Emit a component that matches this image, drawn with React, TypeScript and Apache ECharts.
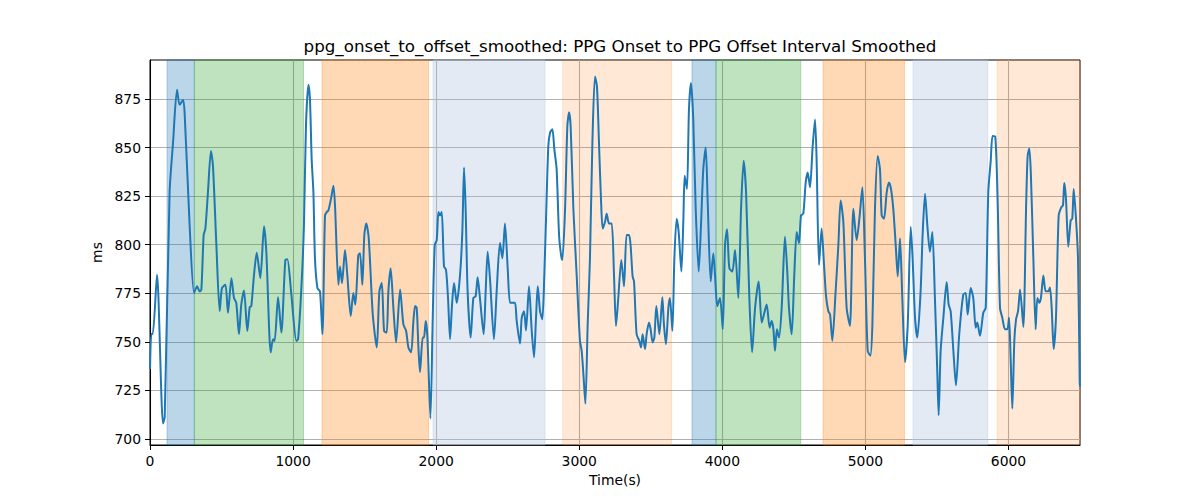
import { useEffect, useRef } from "react";
import * as echarts from "echarts";

const TITLE = "ppg_onset_to_offset_smoothed: PPG Onset to PPG Offset Interval Smoothed";

// smoothed interval (ms) over time (s)
const TIME = [
  0, 9, 19, 49, 91, 103, 137, 161, 189, 207, 231, 242, 277, 308, 329, 347, 359, 375, 387, 405,
  426, 440, 464, 487, 503, 527, 545, 569, 587, 603, 622, 638, 657, 680, 697, 708, 727, 746, 771, 797,
  813, 844, 860, 871, 895, 918, 946, 960, 988, 1023, 1035, 1058, 1076, 1090, 1107, 1118, 1130, 1142, 1153, 1170,
  1188, 1205, 1223, 1235, 1247, 1265, 1282, 1293, 1317, 1328, 1342, 1363, 1379, 1403, 1421, 1435, 1456, 1468, 1484, 1498,
  1512, 1529, 1557, 1585, 1603, 1620, 1636, 1654, 1666, 1682, 1701, 1720, 1748, 1771, 1790, 1806, 1825, 1841, 1853, 1864,
  1876, 1887, 1906, 1915, 1927, 1939, 1960, 1976, 1990, 2004, 2016, 2027, 2039, 2055, 2069, 2083, 2097, 2111, 2125, 2144,
  2167, 2183, 2195, 2206, 2220, 2241, 2260, 2276, 2290, 2306, 2332, 2346, 2360, 2376, 2404, 2423, 2446, 2463, 2481, 2500,
  2516, 2532, 2551, 2563, 2586, 2598, 2614, 2628, 2649, 2668, 2684, 2698, 2710, 2726, 2742, 2756, 2770, 2784, 2796, 2812,
  2826, 2842, 2859, 2873, 2882, 2901, 2917, 2929, 2940, 2959, 2982, 3005, 3017, 3029, 3043, 3059, 3075, 3092, 3110, 3124,
  3138, 3152, 3164, 3180, 3192, 3208, 3227, 3243, 3257, 3273, 3294, 3313, 3331, 3348, 3359, 3373, 3383, 3401, 3420, 3432,
  3443, 3460, 3471, 3488, 3499, 3513, 3525, 3539, 3560, 3581, 3592, 3606, 3623, 3634, 3651, 3665, 3681, 3695, 3714, 3728,
  3737, 3753, 3767, 3781, 3797, 3814, 3835, 3851, 3867, 3884, 3898, 3919, 3937, 3949, 3965, 3984, 4003, 4019, 4033, 4049,
  4070, 4089, 4112, 4131, 4149, 4166, 4189, 4208, 4229, 4254, 4275, 4291, 4310, 4331, 4345, 4357, 4368, 4382, 4396, 4415,
  4438, 4454, 4466, 4485, 4503, 4520, 4536, 4550, 4566, 4583, 4597, 4613, 4631, 4648, 4659, 4676, 4694, 4711, 4725, 4741,
  4753, 4769, 4792, 4811, 4827, 4846, 4869, 4892, 4916, 4939, 4958, 4979, 4997, 5016, 5035, 5049, 5067, 5086, 5102, 5114,
  5130, 5149, 5165, 5179, 5195, 5212, 5226, 5242, 5258, 5277, 5296, 5317, 5330, 5347, 5363, 5386, 5400, 5417, 5433, 5451,
  5468, 5486, 5503, 5512, 5526, 5545, 5568, 5582, 5596, 5615, 5633, 5656, 5684, 5701, 5715, 5736, 5754, 5771, 5782, 5801,
  5824, 5841, 5859, 5876, 5889, 5908, 5924, 5941, 5957, 5976, 5992, 6004, 6015, 6027, 6041, 6053, 6067, 6081, 6104, 6123,
  6134, 6146, 6157, 6174, 6190, 6202, 6216, 6227, 6244, 6260, 6279, 6290, 6302, 6316, 6332, 6351, 6370, 6381, 6390, 6402,
  6418, 6435, 6446, 6456, 6472, 6486, 6498, 6500,
];
const MS = [
  736, 754, 754, 784.5, 708, 711.4, 827, 852.6, 879.8, 872, 874.7, 867.9, 810, 775.2, 778.6, 776, 776.9, 805, 808.3, 827,
  848.3, 840.6, 799.8, 765.8, 777.7, 779.4, 765, 782.8, 772.6, 770.1, 753.9, 769.2, 776.4, 755.6, 767.9, 768.4, 784.5, 795.9, 782.8, 809.5,
  796.4, 744.6, 751.4, 750.5, 773, 754.8, 792.2, 792.5, 774.3, 750.5, 751.4, 777.7, 810, 861, 882.3, 874.7, 844, 827, 793, 777.7,
  776, 753.9, 815.1, 816.8, 817.7, 823.6, 830.4, 820.2, 779.4, 788.8, 780.3, 797.3, 784.5, 763.3, 775.2, 769.2, 794.7, 795.6, 779.4, 805,
  810.9, 803.2, 764.1, 747.1, 776, 780.3, 755.6, 754.8, 776, 787.9, 767.5, 749.7, 776.9, 759, 755.6, 747.1, 744.6, 760.7, 768.4, 767.5,
  747.1, 734.4, 752.2, 752.2, 760.7, 752.2, 710.5, 762.4, 799.8, 802.4, 816.8, 815.1, 816.8, 788.8, 787.1, 772.6, 751.4, 769.2, 780.3, 770.1,
  784.5, 806.6, 839.8, 818.5, 776, 752.2, 772.6, 773.5, 783.2, 772.6, 753.9, 776, 796.4, 782.8, 751.4, 776, 801, 793, 810.9, 787.9,
  770.1, 770.1, 770.1, 760.7, 749.1, 762.4, 765.8, 755.9, 778.6, 755.6, 742, 762.4, 778.6, 765.8, 761.6, 784.5, 818.5, 850.9, 857.7, 859.4,
  849.1, 838.9, 805, 794.7, 792.2, 818.5, 861, 868.2, 861, 818.5, 784.5, 750.5, 745.4, 733.5, 718.2, 759, 793, 852.6, 886.6, 881.5,
  852.6, 823.6, 808.3, 811.7, 816, 810.9, 810.9, 784.5, 758.2, 772.6, 792.2, 778.6, 805, 805, 799.8, 783.7, 781.1, 753.9, 750.5, 747.1,
  753.9, 746.3, 753.9, 759.9, 756.5, 749.7, 752.2, 768.4, 753.9, 773, 759, 748.8, 767.5, 772.6, 755.6, 793, 813.4, 806.6, 786.2, 813.4,
  835.5, 828.7, 869.6, 883.2, 864.5, 818.5, 786.2, 810, 838.9, 850, 821.9, 781.1, 795.6, 784.5, 768.4, 772.6, 756.5, 799.8, 808, 787.9,
  786.2, 797.3, 772.6, 818.5, 843.2, 827, 772.6, 744.6, 767.5, 781.1, 759.9, 764.1, 769.2, 757.3, 760.7, 756.5, 745.4, 756.5, 752.2, 767.5,
  804.1, 786.2, 767.5, 753.9, 784.5, 806.6, 800.7, 815.1, 816, 832.1, 837.2, 829.6, 850, 864.5, 844, 789.6, 808.3, 789.6, 773.5, 765.8,
  764.1, 750.5, 776, 799.8, 822.8, 811.7, 767.5, 758.2, 818.5, 802.4, 813.4, 829.6, 793, 745.4, 742.9, 759, 818.5, 845.7, 838.9, 815.1,
  813.4, 827, 832.1, 828.7, 818.5, 799.8, 783.7, 803.2, 772.6, 739.5, 759, 809.2, 793, 762.4, 752.2, 776, 805, 826.2, 810, 796.4,
  806.6, 772.6, 733.5, 712.2, 745.4, 762.4, 780.8, 769.2, 765.8, 745.4, 727.6, 753.9, 774.3, 775.2, 764.1, 777.7, 772.6, 757.3, 759.9, 753.1,
  765, 767.5, 827, 843.2, 856, 855.6, 823.6, 767.5, 762.4, 756.5, 756.5, 762.4, 742, 715.6, 750.5, 761.6, 765.8, 776.9, 757.7, 818.5,
  845.7, 849.5, 835.5, 793, 756.5, 772.6, 770.1, 772.6, 784.2, 776, 776, 778, 767.5, 746.3, 762.4, 815.1, 819.4, 820.2, 831.8, 823.6,
  799, 812.6, 813.4, 828.7, 813.4, 793, 729.3, 727,
];

// shaded spans (seconds) and which colour each uses
const BAND_START = [119, 310, 1202, 1978, 2884, 3788, 3956, 4704, 5333, 5920];
const BAND_END = [310, 1073, 1947, 2761, 3646, 3956, 4548, 5273, 5856, 6500];
const BAND_KIND = ["blue", "green", "orange", "paleblue", "paleorange", "blue", "green", "orange", "paleblue", "paleorange"];

const X_TICKS = [0, 1000, 2000, 3000, 4000, 5000, 6000];
const Y_TICKS = [700, 725, 750, 775, 800, 825, 850, 875];

const BAND_COLOR: Record<string, string> = {
  blue: "rgba(31,119,180,0.3)",
  green: "rgba(44,160,44,0.3)",
  orange: "rgba(255,127,14,0.3)",
  paleblue: "rgba(176,196,222,0.35)",
  paleorange: "rgba(255,127,14,0.17)",
};

const FONT = "DejaVu Sans";

export default function App() {
  const ref = useRef<HTMLDivElement>(null);

  useEffect(() => {
    if (!ref.current) return;
    const chart = echarts.init(ref.current, undefined, { renderer: "svg" });
    const bands = BAND_START.map((s, i) => {
      const c = BAND_COLOR[BAND_KIND[i]];
      return [
        { xAxis: s, itemStyle: { color: c, borderColor: c, borderWidth: 1 } },
        { xAxis: BAND_END[i] },
      ];
    });
    const axisText = { color: "#000", fontFamily: FONT, fontSize: 13.9 };
    chart.setOption({
      animation: false,
      title: {
        text: TITLE,
        left: 615,
        top: 32,
        textAlign: "center",
        textStyle: { color: "#000", fontFamily: FONT, fontSize: 16.7, fontWeight: "normal" },
      },
      grid: { left: 150, right: 120, top: 60, bottom: 55, show: true, borderColor: "#000", borderWidth: 1, backgroundColor: "transparent" },
      xAxis: {
        type: "value",
        min: 0,
        max: 6500,
        name: "Time(s)",
        nameLocation: "middle",
        nameGap: 28,
        nameTextStyle: axisText,
        axisLine: { lineStyle: { color: "#000", width: 1 } },
        axisTick: { customValues: X_TICKS, length: 5, lineStyle: { color: "#000" } },
        axisLabel: { customValues: X_TICKS, margin: 9, formatter: (v: number) => String(v), ...axisText },
        splitLine: { show: true, lineStyle: { color: "#b0b0b0", width: 1.1 } },
      },
      yAxis: {
        type: "value",
        min: 696.9,
        max: 895.1,
        name: "ms",
        nameLocation: "middle",
        nameGap: 37,
        nameTextStyle: axisText,
        axisLine: { show: true, lineStyle: { color: "#000", width: 1 } },
        axisTick: { show: true, customValues: Y_TICKS, length: 5, lineStyle: { color: "#000" } },
        axisLabel: { customValues: Y_TICKS, margin: 9, formatter: (v: number) => String(v), ...axisText },
        splitLine: { show: true, lineStyle: { color: "#b0b0b0", width: 1.1 } },
      },
      series: [
        {
          type: "line",
          data: TIME.map((t, i) => [t, MS[i]]),
          showSymbol: false,
          smooth: 0.25,
          lineStyle: { color: "#1f77b4", width: 2 },
          markArea: { silent: true, data: bands },
        },
      ],
    });
    return () => chart.dispose();
  }, []);

  return <div ref={ref} style={{ position: "fixed", left: 0, top: 0, width: 1200, height: 500, background: "#fff" }} />;
}
